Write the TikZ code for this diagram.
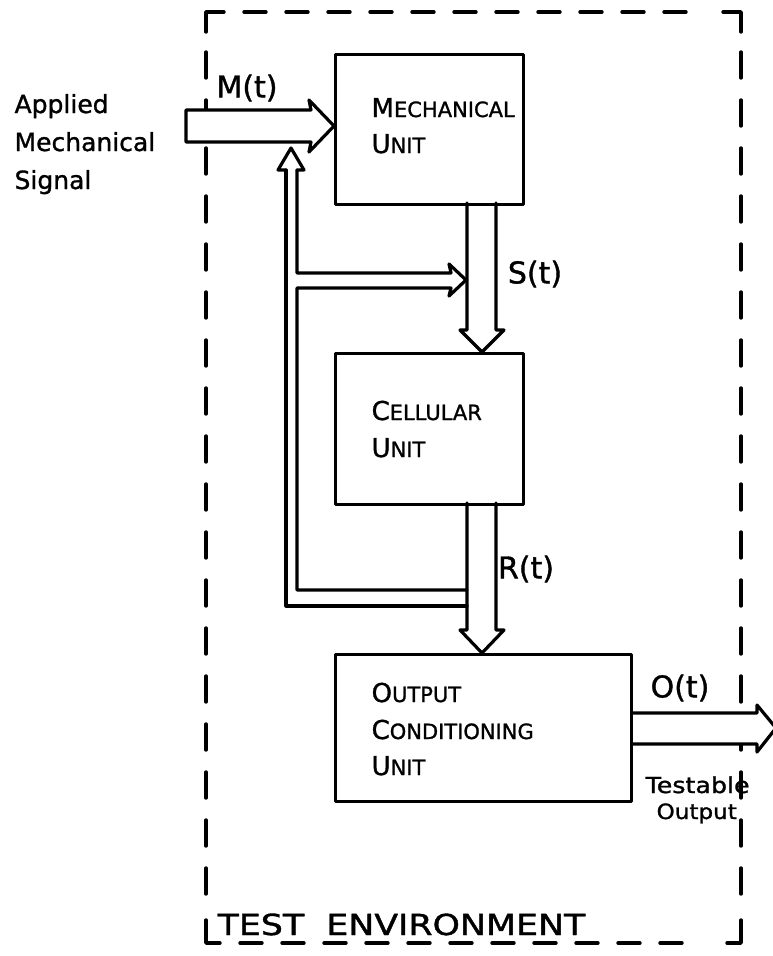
\documentclass[tikz,border=0pt]{standalone}
\usepackage{fontspec}
\usepackage{graphicx}
\setmainfont{DejaVu Sans}[FakeBold=1.2]
\newcommand\sct[2]{{\fontsize{26}{26}\selectfont #1}{\fontsize{21}{21}\selectfont #2}}
\begin{document}
\begin{tikzpicture}[x=1pt,y=-1pt,line width=3.2pt,line join=round,line cap=round,
  box/.style={draw,line width=3.2pt,inner sep=0pt,anchor=north west},
  txt/.style={anchor=base west,inner sep=0pt},
  lbl/.style={inner sep=0pt,font=\fontsize{30}{30}\selectfont},
  side/.style={font=\fontsize{25}{25}\selectfont},
  hollow/.style={draw,fill=white,line width=3.2pt},
  brd/.style={line width=3.4pt}]
\useasboundingbox (0,0) rectangle (772,956);
% test environment border
\draw[brd] (206,32) -- (206,12) -- (224,12);
\draw[brd] (723,12) -- (741,12) -- (741,32);
\draw[brd] (206,920) -- (206,943) -- (220,943);
\draw[brd] (727,943) -- (741,943) -- (741,920);
\draw[brd,dash pattern=on 22pt off 20pt] (244,12) -- (700,12);
\draw[brd,dash pattern=on 22pt off 20pt] (240,943) -- (700,943);
\draw[brd,dash pattern=on 26pt off 22pt] (206,52) -- (206,900);
\draw[brd,dash pattern=on 26pt off 22pt] (741,52) -- (741,900);
% boxes
\node[box,minimum width=188pt,minimum height=150pt] (mech) at (334,53) {};
\node[box,minimum width=188pt,minimum height=151pt] (cell) at (334,352) {};
\node[box,minimum width=296pt,minimum height=147pt] (outp) at (334,653) {};
% box texts
\node[txt] (m1) at (370,117) {\sct{M}{ECHANICAL}};
\node[txt] (m2) at (370,153) {\sct{U}{NIT}};
\node[txt] (c1) at (370,420) {\sct{C}{ELLULAR}};
\node[txt] (c2) at (370,457) {\sct{U}{NIT}};
\node[txt] (o1) at (370,702) {\sct{O}{UTPUT}};
\node[txt] (o2) at (370,739) {\sct{C}{ONDITIONING}};
\node[txt] (o3) at (370,775) {\sct{U}{NIT}};
% input arrow M(t)
\draw[hollow] (186,110) -- (311,110) -- (309,100) -- (mech.west |- 0,126) -- (309,152) -- (311,142) -- (186,142) -- cycle;
% feedback up arrow
\draw (286,170) -- (278,170) -- (291,148) -- (304,170) -- (297,170);
\draw (286,170) -- (286,606) -- (467,606);
\draw (297,170) -- (297,273) -- (451,273) -- (449,264) -- (466,280) -- (449,296) -- (451,288) -- (297,288) -- (297,590) -- (467,590);
% S(t) arrow
\draw (467,203) -- (467,330) -- (460,330) -- (cell.north -| 482,0) -- (504,330) -- (496,330) -- (496,203);
% R(t) arrow
\draw (467,503) -- (467,630) -- (460,630) -- (outp.north -| 482,0) -- (504,630) -- (496,630) -- (496,503);
% output arrow
\draw[hollow] (outp.east |- 0,713) -- (757,713) -- (757,705) -- (776,728) -- (757,752) -- (757,744) -- (outp.east |- 0,744);
% labels
\node[lbl] (Mt) at (247,88) {M(t)};
\node[lbl] (St) at (535,274) {S(t)};
\node[lbl] (Rt) at (526,569) {R(t)};
\node[lbl] (Ot) at (680,688) {O(t)};
\node[txt,side] (a1) at (13,113) {Applied};
\node[txt,side] (a2) at (13,151) {Mechanical};
\node[txt,side] (a3) at (13,189) {Signal};
\node[txt] (t1) at (644,793) {\scalebox{1.15}[1]{\fontsize{22}{22}\selectfont Testable}};
\node[txt] (t2) at (655,819) {\scalebox{1.1}[1]{\fontsize{21}{21}\selectfont Output}};
\node[txt] (env) at (216,935) {\scalebox{1.2}[1]{\fontsize{29}{29}\selectfont TEST\ \ ENVIRONMENT}};
\end{tikzpicture}
\end{document}
